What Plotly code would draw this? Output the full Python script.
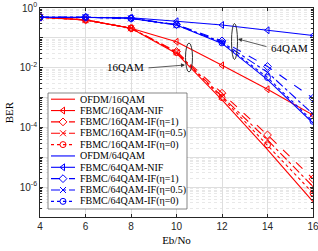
import plotly.graph_objects as go

# ---------------- data ----------------
snr = [4, 6, 8, 10, 12, 14, 16]

ofdm_16qam = [0.49, 0.40, 0.21, 3.0e-2, 8.3e-4, 1.8e-5, 3.3e-7]
fbmc_16qam_nif = [0.49, 0.40, 0.21, 7.4e-2, 1.2e-2, 1.9e-3, 2.6e-4]
fbmc_16qam_if1 = [0.49, 0.40, 0.21, 3.5e-2, 1.4e-3, 5.6e-5, 1.9e-6]
fbmc_16qam_if05 = [0.49, 0.40, 0.21, 3.3e-2, 1.1e-3, 3.8e-5, 1.05e-6]
fbmc_16qam_if0 = [0.49, 0.40, 0.21, 3.2e-2, 1.0e-3, 2.6e-5, 6.3e-7]

ofdm_64qam = [0.49, 0.49, 0.45, 0.27, 6.5e-2, 4.0e-3, 1.4e-4]
fbmc_64qam_nif = [0.49, 0.49, 0.47, 0.36, 0.27, 0.18, 0.12]
fbmc_64qam_if1 = [0.49, 0.49, 0.45, 0.28, 7.9e-2, 1.1e-2, 9.5e-4]
fbmc_64qam_if05 = [0.49, 0.49, 0.45, 0.275, 7.2e-2, 7.0e-3, 2.8e-4]
fbmc_64qam_if0 = [0.49, 0.49, 0.45, 0.27, 6.8e-2, 4.7e-3, 1.6e-4]

series_names = [
    "OFDM/16QAM", "FBMC/16QAM-NIF", "FBMC/16QAM-IF(η=1)", "FBMC/16QAM-IF(η=0.5)", "FBMC/16QAM-IF(η=0)",
    "OFDM/64QAM", "FBMC/64QAM-NIF", "FBMC/64QAM-IF(η=1)", "FBMC/64QAM-IF(η=0.5)", "FBMC/64QAM-IF(η=0)",
]
series_values = [
    ofdm_16qam, fbmc_16qam_nif, fbmc_16qam_if1, fbmc_16qam_if05, fbmc_16qam_if0,
    ofdm_64qam, fbmc_64qam_nif, fbmc_64qam_if1, fbmc_64qam_if05, fbmc_64qam_if0,
]

x_ticks = [4, 6, 8, 10, 12, 14, 16]
y_tick_exps = [-7, -6, -5, -4, -3, -2, -1, 0]
y_tick_labels = ["" if e % 2 else "10<sup>%d</sup>" % e for e in y_tick_exps]

# ---------------- styles ----------------
RED = "rgb(255,0,0)"
BLUE = "rgb(0,0,255)"
styles = [
    (RED, "solid", None),
    (RED, "solid", "triangle-left-open"),
    (RED, "dash", "diamond-open"),
    (RED, "dashdot", "x-thin-open"),
    (RED, "dot", "circle-open"),
    (BLUE, "solid", None),
    (BLUE, "solid", "triangle-left-open"),
    (BLUE, "dash", "diamond-open"),
    (BLUE, "dashdot", "x-thin-open"),
    (BLUE, "dot", "circle-open"),
]

SERIF = "Liberation Serif"
SANS = "Liberation Sans"
AX = "#262626"

W, H = 318, 251
ML, MR, MT, MB = 40, 5, 8, 34
PW, PH = W - ML - MR, H - MT - MB

fig = go.Figure()

for name, vals, (col, dash, sym) in zip(series_names, series_values, styles):
    mode = "lines+markers" if sym else "lines"
    fig.add_trace(go.Scatter(
        x=snr, y=vals, name=name, mode=mode,
        line=dict(color=col, width=1.1, dash=dash),
        marker=dict(symbol=sym or "circle", size=6, color=col,
                    line=dict(color=col, width=1)),
        showlegend=False, xaxis="x", yaxis="y",
    ))

# ---------------- manual legend (pixel-space overlay axes) ----------------
L_X0, L_X1, L_Y0, L_Y1 = 48, 187, 93, 209
fig.add_trace(go.Scatter(
    x=[L_X0, L_X1, L_X1, L_X0, L_X0], y=[L_Y0, L_Y0, L_Y1, L_Y1, L_Y0],
    mode="lines", fill="toself", fillcolor="white",
    line=dict(color="#555555", width=0.7),
    xaxis="x2", yaxis="y2", showlegend=False, hoverinfo="skip",
))
row0, drow = 99.2, 11.35
annotations = []
for i, (name, (col, dash, sym)) in enumerate(zip(series_names, styles)):
    yy = row0 + i * drow
    fig.add_trace(go.Scatter(
        x=[51, 75], y=[yy, yy], mode="lines",
        line=dict(color=col, width=1.1, dash=dash),
        xaxis="x2", yaxis="y2", showlegend=False, hoverinfo="skip",
    ))
    if sym:
        fig.add_trace(go.Scatter(
            x=[63], y=[yy], mode="markers",
            marker=dict(symbol=sym, size=6, color=col, line=dict(color=col, width=1)),
            xaxis="x2", yaxis="y2", showlegend=False, hoverinfo="skip",
        ))
    annotations.append(dict(
        x=78, y=yy, xref="x2", yref="y2", text=name, showarrow=False,
        xanchor="left", yanchor="middle", font=dict(family=SERIF, size=10, color="black"),
    ))

# ---------------- group labels, arrows, ellipses ----------------
annotations += [
    dict(x=146, y=67, xref="x2", yref="y2", text="16QAM", showarrow=False,
         xanchor="right", yanchor="middle", font=dict(family=SERIF, size=11, color="black")),
    dict(x=185, y=65, xref="x2", yref="y2", ax=147, ay=68, axref="x2", ayref="y2",
         text="", showarrow=True, arrowhead=2, arrowsize=1, arrowwidth=0.8, arrowcolor="#333333"),
    dict(x=269, y=48, xref="x2", yref="y2", text="64QAM", showarrow=False,
         xanchor="left", yanchor="middle", font=dict(family=SERIF, size=11, color="black")),
    dict(x=238, y=39, xref="x2", yref="y2", ax=268, ay=47, axref="x2", ayref="y2",
         text="", showarrow=True, arrowhead=2, arrowsize=1, arrowwidth=0.8, arrowcolor="#333333"),
]

shapes = [
    dict(type="circle", xref="x2", yref="y2", x0=185.5, x1=192.5, y0=43, y1=72,
         line=dict(color="#333333", width=1), layer="above"),
    dict(type="circle", xref="x2", yref="y2", x0=231.5, x1=237.5, y0=23.5, y1=59.5,
         line=dict(color="#333333", width=1), layer="above"),
]

fig.update_layout(
    width=W, height=H,
    margin=dict(l=ML, r=MR, t=MT, b=MB, pad=0, autoexpand=False),
    paper_bgcolor="white", plot_bgcolor="white",
    annotations=annotations, shapes=shapes,
    xaxis=dict(
        range=[4, 16], tickvals=x_ticks, ticks="inside", ticklen=3, tickcolor=AX,
        showline=True, linecolor=AX, linewidth=0.8, mirror="allticks",
        showgrid=True, gridcolor="#dedede", gridwidth=0.6, zeroline=False,
        tickfont=dict(family=SANS, size=10, color=AX), automargin=False,
        ticklabeloverflow="allow",
        title=dict(text="Eb/No", font=dict(family=SERIF, size=11, color="black"), standoff=5),
    ),
    yaxis=dict(
        type="log", range=[-7, 0],
        tickvals=[10.0 ** e for e in y_tick_exps], ticktext=y_tick_labels,
        ticks="inside", ticklen=3, tickcolor=AX,
        showline=True, linecolor=AX, linewidth=0.8, mirror="allticks",
        showgrid=True, gridcolor="#dedede", gridwidth=0.6, zeroline=False,
        tickfont=dict(family=SANS, size=10, color=AX), automargin=False,
        ticklabeloverflow="allow",
        title=dict(text="BER", font=dict(family=SERIF, size=11, color="black"), standoff=3),
        minor=dict(dtick="D1", showgrid=True, gridcolor="#e8e8e8", griddash="dot",
                   gridwidth=0.6, ticks="inside", ticklen=2, tickcolor=AX),
    ),
    xaxis2=dict(range=[ML, W - MR], overlaying="x", visible=False, fixedrange=True),
    yaxis2=dict(range=[MT + PH, MT], overlaying="y", visible=False, fixedrange=True),
    showlegend=False,
)

fig.write_html(
    "out.html",
    config={"displayModeBar": False},
    post_script="document.body.style.margin='0';document.body.style.overflow='hidden';",
)
